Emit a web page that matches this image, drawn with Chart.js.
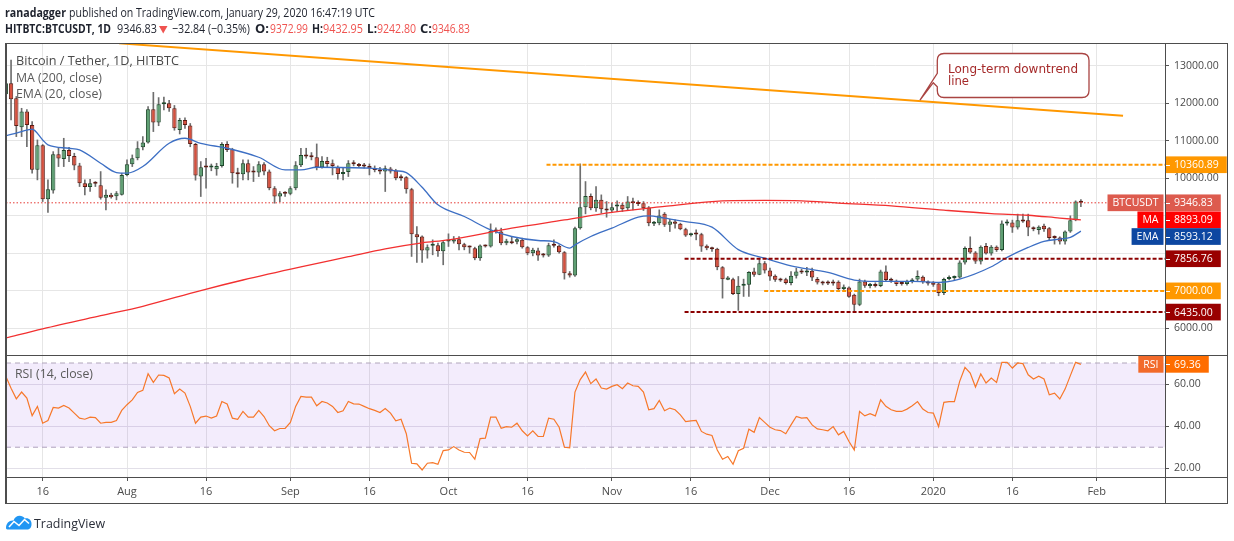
<!DOCTYPE html>
<html><head><meta charset="utf-8">
<script src="https://cdn.jsdelivr.net/npm/chart.js@4.4.1/dist/chart.umd.min.js"></script>
<style>
html,body{margin:0;padding:0;background:#fff;width:1234px;height:541px;overflow:hidden}
#wrap{position:relative;width:1234px;height:541px}
canvas{position:absolute;left:0;top:0}
svg{position:absolute;left:0;top:0}
.f{position:absolute;background:#4d4d4d}
</style></head><body>
<div id="wrap">
<canvas id="main" width="1234" height="541"></canvas>
<canvas id="rsi" width="1234" height="541"></canvas>
<div class="f" style="left:5px;top:43px;width:1223px;height:1px"></div>
<div class="f" style="left:5px;top:43px;width:2px;height:461px"></div>
<div class="f" style="left:1227px;top:43px;width:1px;height:461px"></div>
<div class="f" style="left:5px;top:503px;width:1223px;height:1px"></div>
<div class="f" style="left:5px;top:355px;width:1223px;height:1px"></div>
<div class="f" style="left:5px;top:477px;width:1223px;height:1px"></div>
<div class="f" style="left:1165px;top:43px;width:1px;height:461px"></div>
<svg width="1234" height="541" xmlns="http://www.w3.org/2000/svg">
 <g font-family="Open Sans" font-size="13" fill="#1e222d">
  <text x="5" y="17" font-weight="bold" textLength="61" lengthAdjust="spacingAndGlyphs">ranadagger</text>
  <text x="69" y="17" textLength="306" lengthAdjust="spacingAndGlyphs">published on TradingView.com, January 29, 2020 16:47:19 UTC</text>
  <text x="5" y="33" font-weight="bold" textLength="106" lengthAdjust="spacingAndGlyphs">HITBTC:BTCUSDT, 1D</text>
  <text x="117" y="33" textLength="40" lengthAdjust="spacingAndGlyphs">9346.83</text>
  <text x="172" y="33" textLength="78" lengthAdjust="spacingAndGlyphs">−32.84 (−0.35%)</text>
  <text x="255" y="33" font-weight="bold" textLength="14" lengthAdjust="spacingAndGlyphs">O:</text>
  <text x="270" y="33" fill="#ef5350" textLength="38" lengthAdjust="spacingAndGlyphs">9372.99</text>
  <text x="312" y="33" font-weight="bold" textLength="11" lengthAdjust="spacingAndGlyphs">H:</text>
  <text x="323" y="33" fill="#ef5350" textLength="40" lengthAdjust="spacingAndGlyphs">9432.95</text>
  <text x="367" y="33" font-weight="bold" textLength="10" lengthAdjust="spacingAndGlyphs">L:</text>
  <text x="377" y="33" fill="#ef5350" textLength="39" lengthAdjust="spacingAndGlyphs">9242.80</text>
  <text x="420" y="33" font-weight="bold" textLength="12" lengthAdjust="spacingAndGlyphs">C:</text>
  <text x="432" y="33" fill="#ef5350" textLength="38" lengthAdjust="spacingAndGlyphs">9346.83</text>
 </g>
 <polygon points="159,26 167.5,26 163.2,33.5" fill="#ef5350"/>
 <g font-family="Open Sans" font-size="13" fill="#4a4a4a">
  <text x="16" y="65" textLength="163" lengthAdjust="spacingAndGlyphs">Bitcoin / Tether, 1D, HITBTC</text>
  <text x="16" y="82" fill="#5a5a5a" textLength="86" lengthAdjust="spacingAndGlyphs">MA (200, close)</text>
  <text x="16" y="98" fill="#5a5a5a" textLength="86" lengthAdjust="spacingAndGlyphs">EMA (20, close)</text>
  <text x="15" y="378" fill="#5a5a5a" textLength="78" lengthAdjust="spacingAndGlyphs">RSI (14, close)</text>
 </g>
 <path d="M944,53.5 H1082 Q1089,53.5 1089,60.5 V90.5 Q1089,97.5 1082,97.5 H944 Q937.3,97.5 937.3,90.5 V86.7 L933.3,82.7 L920,100 L937.3,73.3 V60.5 Q937.3,53.5 944,53.5 Z" fill="#fff" stroke="#a94442" stroke-width="1.3"/>
 <g font-family="DejaVu Sans" font-size="12" fill="#a52a2a">
  <text x="948" y="73" textLength="130" lengthAdjust="spacingAndGlyphs">Long-term downtrend</text>
  <text x="948" y="85" textLength="21" lengthAdjust="spacingAndGlyphs">line</text>
 </g>
 <path d="M6,528 C6,523 9.5,520 13.5,520.5 C15,515.5 21.5,514 25,518.5 C28.5,517.5 32,520.5 31.5,524.5 C31.5,527.5 29.5,529.5 27,529.5 L8.5,529.5 C7,529.5 6,529 6,528 Z" fill="#2196f3"/>
 <polyline points="9,527 14,521.5 19,525.5 24.5,519.5 29,523.5" fill="none" stroke="#fff" stroke-width="1.6"/>
 <text x="34" y="528" font-family="Open Sans" font-size="13" fill="#2a2e39" textLength="71" lengthAdjust="spacingAndGlyphs">TradingView</text>
</svg>
</div>
<script>
// ---- data (day index: 0 = 2019-07-01; first candle = 2019-07-09) ----
const firstDay = 8;
const opens = [12238,12530,12131,11359,11776,11421,10224,10880,9443,9673,10640,10516,10756,10596,10339,9868,9771,9896,9815,9479,9558,9523,9558,10090,10374,10534,10827,10951,11838,11483,11975,11998,11865,11288,11554,11403,10915,10046,10320,10290,10240,10330,10915,10774,10135,10108,10400,10170,10152,10374,10179,9735,9514,9602,9585,9735,10347,10622,10578,10560,10294,10463,10400,10294,10116,10170,10427,10374,10347,10330,10276,10205,10179,10259,10205,10046,10028,9708,8511,8449,8076,8200,8218,8058,8316,8316,8378,8245,8183,8138,7872,8209,8183,8600,8582,8271,8307,8307,8360,8165,8005,8076,7961,7943,8218,8200,8032,7473,7411,8671,9230,9531,9203,9425,9159,9141,9248,9292,9203,9381,9336,9336,9221,8786,8804,9052,8759,8848,8786,8644,8484,8511,8511,8200,8156,8121,7632,7295,7313,6914,7136,7162,7517,7429,7739,7544,7402,7296,7313,7207,7402,7519,7492,7536,7315,7217,7217,7243,7243,7048,7092,6897,6631,7252,7128,7181,7128,7519,7315,7270,7199,7181,7252,7306,7377,7243,7226,7199,6942,7315,7341,7359,7758,8140,8024,7785,8193,7998,8175,8086,8796,8823,8690,8885,8885,8690,8619,8734,8672,8424,8424,8317,8583,8885,9372.99];
const highs = [12650,13152,12180,11865,11830,11510,11022,10900,9957,10710,10800,11066,10827,10667,10401,9957,9975,9913,10179,9691,9602,9647,10135,10490,10622,10977,11111,11909,12290,12150,12160,12080,11940,11600,11610,11460,10930,10445,10530,10380,10400,10950,10977,10800,10270,10490,10490,10312,10445,10419,10223,9780,9647,9647,9780,10445,10800,10800,10685,10915,10578,10560,10490,10330,10268,10472,10472,10400,10400,10383,10330,10294,10330,10294,10240,10090,10046,9735,8715,8467,8227,8360,8271,8316,8520,8449,8449,8271,8200,8165,8227,8227,8786,8680,8671,8378,8449,8422,8404,8183,8138,8138,8000,8271,8360,8227,8050,7517,8697,10383,9913,9585,9780,9558,9381,9336,9398,9336,9514,9470,9400,9380,9248,8850,9159,9088,8910,8892,8804,8671,8540,8627,8537,8227,8165,8138,7650,7384,7340,7384,7313,7517,7606,7872,7784,7606,7429,7340,7340,7517,7606,7580,7625,7607,7359,7260,7270,7290,7270,7160,7110,6915,7315,7288,7199,7217,7554,7670,7340,7290,7230,7290,7330,7536,7400,7265,7250,7226,7340,7400,7400,7803,8175,8441,8050,8202,8264,8210,8200,8867,8890,8885,9045,9045,9045,8708,8734,8779,8690,8468,8441,8600,9000,9400,9432.95];
const lows = [12150,11554,11110,11111,10845,10135,9957,9380,9088,9602,10312,10312,10445,10224,9780,9558,9647,9780,9443,9159,9470,9425,9550,10060,10312,10490,10756,10933,11244,11400,11820,11780,11280,11180,11330,10840,9950,9514,9735,10200,10080,10294,10710,9868,9762,9957,9957,9913,10046,10090,9691,9336,9380,9514,9558,9691,10312,10534,10490,10223,10268,10294,10090,9975,9957,10046,10330,10294,10268,10090,10170,10116,9647,10135,9957,9940,9602,7917,7757,7757,7872,7961,7916,7695,8183,8271,8094,8094,8005,7828,7810,8165,8165,8540,8227,8227,8254,8254,8138,7961,7934,7810,7900,7916,8165,8005,7313,7366,7384,8644,9052,9159,9115,9070,8963,9088,9115,9115,9159,9159,9270,9141,8733,8740,8759,8715,8582,8671,8627,8449,8460,8360,8050,8094,8050,7561,6807,7295,6896,6479,6852,6852,7384,7429,7473,7278,7251,7251,7180,7162,7340,7460,7403,7270,7181,7160,7164,7150,7004,7000,6826,6427,6604,7092,7080,7100,7110,7270,7226,7137,7150,7150,7210,7270,7200,7150,7120,6870,6897,7290,7300,7341,7714,7998,7730,7714,7980,7950,8050,8068,8750,8557,8645,8823,8468,8600,8512,8583,8353,8246,8246,8246,8557,8867,9242.80];
const closes = [12530,12105,11395,11776,11421,10224,10880,9443,9709,10640,10525,10756,10596,10339,9868,9771,9868,9851,9479,9558,9496,9603,10090,10374,10534,10800,10951,11838,11483,11971,12000,11865,11332,11554,11421,10915,10072,10294,10290,10330,10330,10915,10755,10135,10108,10400,10152,10152,10374,10179,9735,9514,9602,9585,9735,10347,10622,10578,10560,10294,10463,10383,10330,10116,10170,10400,10374,10330,10312,10268,10223,10179,10268,10179,10002,10002,9708,8511,8431,8076,8165,8218,8058,8298,8334,8378,8245,8165,8156,7872,8209,8183,8600,8582,8271,8334,8271,8378,8165,8005,8094,7943,7943,8218,8200,8032,7473,7411,8671,9230,9531,9203,9425,9177,9141,9230,9292,9177,9381,9336,9318,9203,8804,8804,9008,8759,8848,8786,8644,8475,8511,8502,8183,8138,8112,7632,7313,7358,6914,7136,7189,7500,7429,7739,7544,7384,7296,7278,7207,7402,7517,7492,7536,7359,7226,7199,7199,7199,7048,7110,6844,6631,7252,7137,7164,7128,7519,7288,7270,7181,7181,7252,7306,7394,7243,7199,7164,6942,7315,7359,7359,7758,8140,8024,7785,8175,7998,8175,8086,8796,8823,8690,8885,8850,8690,8645,8708,8645,8406,8406,8317,8583,8885,9382,9346.83];
const rsiVals = [63.7,58,53,56.2,53.3,45,49.4,41.4,42.7,48.9,48.6,49.8,48.6,46.2,43.8,43.3,44.3,44.1,41.4,41.8,41.8,42.7,47.5,50.2,52.5,56,57,64.9,60.8,64.3,64.1,62.9,55.4,57.6,55.7,49.4,41.4,44.3,44.8,43.8,44.8,51.7,50.5,43.8,43.3,47,44.3,44.3,47.5,44.6,40.2,37.8,38.9,38.9,41.8,49.4,54.1,53.8,53.8,49.7,51.7,51,49.4,46.5,47.3,51.7,50.6,50.5,49.4,48.3,47.5,46.5,48.4,46.2,42.5,43.3,36.4,22.4,22.1,19.2,22.4,22.7,21.9,28.4,28.7,30.3,28.7,27.6,27.5,24.3,34.1,34.3,44.3,44.3,39,39.8,39.5,41.4,37.8,35.4,37.8,35.1,35.1,43.8,43.3,39.5,30,29.7,56.2,62.1,65.7,60.2,62.4,58.1,57.6,58.9,59.7,57.8,60.5,59.2,58.9,56.2,47.8,48.3,52.2,47.3,48.6,47.8,45.4,42.2,42.5,42.7,37.5,36.2,35.6,28.7,24.3,25.6,21.9,28.3,29.5,38.6,37.1,44.1,41.8,39.5,38.3,37.9,36.4,40.6,44.6,43.8,44.1,40.6,38.7,38.3,37.8,39.8,35.9,37.5,32.7,28.7,47,44.9,45.9,44.9,52.5,49.4,47.8,47,47,48.1,49.7,51.7,48.1,46.5,46.2,39.8,51.3,51.7,51.7,61.3,67.9,65.2,58.6,64.8,60.5,62.9,60.8,70.3,70.3,67.6,70,69.7,64.4,62.4,63.7,62.4,54.9,55.7,52.9,57.6,64,70.3,69.36];
const maDays = [8,15,26,34,45,53,64,73,80,87,92,104,114,123,133,142,146,152,159,166,176,186,195,202,208,212];
const maVals = [5745,5990,6340,6590,7010,7290,7640,7910,8120,8280,8360,8670,8890,9090,9250,9380,9405,9410,9400,9340,9265,9150,9060,9015,8940,8893.09];
const emaDays = [8,11,13,15,16,20,22,26,29,31,34,39,42,45,50,56,61,64,67,77,82,84,87,90,95,100,104,109,112,115,116,119,123,128,130,133,137,142,147,152,157,164,169,173,180,185,189,195,198,202,205,208,210,212];
const emaVals = [11130,11244,11306,11022,10889,10800,10756,10401,10153,10135,10312,10933,11066,10930,10800,10560,10223,10223,10294,10268,10200,10150,9760,9292,8981,8626,8449,8342,8315,8138,8227,8449,8671,8963,9000,8937,8848,8697,8100,7872,7669,7492,7288,7252,7252,7226,7315,7643,7891,8157,8317,8380,8424,8593.12];
// horizontal levels
const levelVals = [10360.89, 7856.76, 7000.00, 6435.00];
const levelStart = [110.6, 136.8, 151.9, 136.8];
const levelColors = ['#ff9800', '#8b0000', '#ff9800', '#8b0000'];
// long-term downtrend line (two anchor points: day, price)
const trendDays = [29.5, 220];
const trendVals = [13596, 11669];
// axes
const tickDays = [15,31,46,62,77,92,107,123,138,153,168,184,199,215];
const tickLabels = ['16','Aug','16','Sep','16','Oct','16','Nov','16','Dec','16','2020','16','Feb'];
const priceTicks = [6000,7000,8000,9000,10000,11000,12000,13000];
const rsiTicks = [20,40,60];
const rsiBands = [70, 30];

const X_MIN = 8.04, X_MAX = 227.96;
const FONT = '"Open Sans", sans-serif';
Chart.defaults.font.family = FONT;
Chart.defaults.animation = false;

const days = opens.map((_, i) => firstDay + i);
const up = opens.map((o, i) => closes[i] >= o);
// price values that carry a coloured axis label (axis ticks hidden under them)
const boxedValues = [closes[closes.length - 1], maVals[maVals.length - 1], emaVals[emaVals.length - 1], ...levelVals];

function xScale(show) {
  return {
    type: 'linear', min: X_MIN, max: X_MAX, position: 'bottom', offset: false,
    afterBuildTicks: s => { s.ticks = tickDays.map(v => ({ value: v })); },
    ticks: { display: show, autoSkip: false, maxRotation: 0, padding: 4, color: '#4a4a4a',
      font: { size: 11, family: FONT }, callback: (v, i) => tickLabels[i] },
    grid: { offset: false, color: '#e6e6e6', drawTicks: show, tickLength: 4, tickColor: '#555' },
    border: { display: false },
    afterFit: s => { s.height = show ? 27 : 0; }
  };
}

const H = 16.7, X0 = 1166;
function valueBox(ctx, y, txt, bg) {
  ctx.font = '10.5px ' + FONT;
  const w = 16 + ctx.measureText(txt).width;
  ctx.fillStyle = bg; ctx.fillRect(X0, y - H / 2, w, H);
  ctx.strokeStyle = '#fff'; ctx.lineWidth = 1;
  ctx.beginPath(); ctx.moveTo(X0, Math.round(y) + 0.5); ctx.lineTo(X0 + 4, Math.round(y) + 0.5); ctx.stroke();
  ctx.fillStyle = '#fff'; ctx.textAlign = 'left'; ctx.textBaseline = 'middle';
  ctx.fillText(txt, X0 + 8, y + 0.5);
}
function nameBox(ctx, y, txt, bg) {
  ctx.font = '10.5px ' + FONT;
  const w = 10 + ctx.measureText(txt).width;
  ctx.fillStyle = bg; ctx.fillRect(1163.5 - w, y - H / 2, w, H);
  ctx.fillStyle = '#fff'; ctx.textAlign = 'right'; ctx.textBaseline = 'middle';
  ctx.fillText(txt, 1163.5 - 5, y + 0.5);
}

const mainLabels = {
  id: 'mainLabels',
  afterDraw(chart) {
    const ys = chart.scales.y, ctx = chart.ctx;
    ctx.save();
    levelVals.forEach((v, i) => valueBox(ctx, ys.getPixelForValue(v), v.toFixed(2), levelColors[i] === '#8b0000' ? '#990000' : '#ff9800'));
    const items = [
      { v: closes[closes.length - 1], name: 'BTCUSDT', bg: '#dd5b4e' },
      { v: maVals[maVals.length - 1], name: 'MA', bg: '#ff0000' },
      { v: emaVals[emaVals.length - 1], name: 'EMA', bg: '#0d47a1' }
    ].map(o => Object.assign(o, { y: ys.getPixelForValue(o.v) })).sort((a, b) => a.y - b.y);
    for (let i = 1; i < items.length; i++) items[i].y = Math.max(items[i].y, items[i - 1].y + H);
    items.forEach(o => { nameBox(ctx, o.y, o.name, o.bg); valueBox(ctx, o.y, o.v.toFixed(2), o.bg); });
    ctx.restore();
  }
};
const rsiLabels = {
  id: 'rsiLabels',
  afterDraw(chart) {
    const ys = chart.scales.y, ctx = chart.ctx;
    const v = rsiVals[rsiVals.length - 1], y = ys.getPixelForValue(v);
    ctx.save();
    nameBox(ctx, y, 'RSI', '#f26a2a');
    valueBox(ctx, y, v.toFixed(2), '#ff6d00');
    ctx.restore();
  }
};

const lineBase = { type: 'line', pointRadius: 0, clip: 0, fill: false };
const mainDatasets = [
  { type: 'bar', data: days.map((d, i) => ({ x: d, y: [lows[i], highs[i]] })),
    backgroundColor: '#6e6e6e', maxBarThickness: 1, grouped: false, barPercentage: 1, categoryPercentage: 1,
    borderWidth: 0, clip: 0, order: 10 },
  { type: 'bar', data: days.map((d, i) => ({ x: d, y: [Math.min(opens[i], closes[i]), Math.max(opens[i], closes[i])] })),
    backgroundColor: up.map(u => u ? '#5f9f73' : '#d6503e'), borderColor: up.map(u => u ? '#1e4a2c' : '#5e1c14'),
    borderWidth: 1, borderSkipped: false, grouped: false, barPercentage: 0.82, categoryPercentage: 1,
    minBarLength: 2, clip: 0, order: 9 },
  Object.assign({}, lineBase, { data: maDays.map((d, i) => ({ x: d, y: maVals[i] })), borderColor: '#f23030', borderWidth: 1.3, cubicInterpolationMode: 'monotone', order: 5 }),
  Object.assign({}, lineBase, { data: emaDays.map((d, i) => ({ x: d, y: emaVals[i] })), borderColor: '#3d6fc4', borderWidth: 1.3, cubicInterpolationMode: 'monotone', order: 5 }),
  Object.assign({}, lineBase, { data: [{ x: X_MIN, y: closes[closes.length - 1] }, { x: X_MAX, y: closes[closes.length - 1] }], borderColor: '#e53935', borderWidth: 1, borderDash: [1.5, 2], order: 4 }),
  ...levelVals.map((v, i) => Object.assign({}, lineBase, { data: [{ x: levelStart[i], y: v }, { x: X_MAX, y: v }], borderColor: levelColors[i], borderWidth: 2, borderDash: [4, 2], order: 3 })),
  Object.assign({}, lineBase, { data: trendDays.map((d, i) => ({ x: d, y: trendVals[i] })), borderColor: '#ff9800', borderWidth: 2, order: 2 })
];

new Chart(document.getElementById('main'), {
  data: { datasets: mainDatasets },
  options: {
    responsive: false, events: [],
    layout: { padding: { left: 6, right: 0, top: 43, bottom: 186 } },
    plugins: { legend: { display: false }, tooltip: { enabled: false } },
    scales: {
      x: xScale(false),
      y: { type: 'linear', position: 'right', min: 5292, max: 13604,
        afterBuildTicks: s => { s.ticks = priceTicks.map(v => ({ value: v })); },
        ticks: { callback: v => boxedValues.some(b => Math.abs(b - v) < 250) ? '' : Number(v).toFixed(2),
          color: '#4a4a4a', font: { size: 10.5, family: FONT }, padding: 5 },
        grid: { color: '#e6e6e6', tickLength: 4, tickColor: '#555' },
        border: { display: false },
        afterFit: s => { s.width = 69; } }
    }
  },
  plugins: [mainLabels]
});

new Chart(document.getElementById('rsi'), {
  data: { datasets: [
    Object.assign({}, lineBase, { data: [{ x: X_MIN, y: rsiBands[0] }, { x: X_MAX, y: rsiBands[0] }], borderColor: '#b0a6bb', borderWidth: 1, borderDash: [5, 4], fill: '+1', backgroundColor: 'rgba(150,80,230,0.11)', order: 3 }),
    Object.assign({}, lineBase, { data: [{ x: X_MIN, y: rsiBands[1] }, { x: X_MAX, y: rsiBands[1] }], borderColor: '#b0a6bb', borderWidth: 1, borderDash: [5, 4], order: 3 }),
    Object.assign({}, lineBase, { data: days.map((d, i) => ({ x: d, y: rsiVals[i] })), borderColor: '#f7782a', borderWidth: 1.2, order: 1 })
  ] },
  options: {
    responsive: false, events: [],
    layout: { padding: { left: 6, right: 0, top: 355, bottom: 37 } },
    plugins: { legend: { display: false }, tooltip: { enabled: false } },
    scales: {
      x: xScale(true),
      y: { type: 'linear', position: 'right', min: 15.86, max: 73.8,
        afterBuildTicks: s => { s.ticks = rsiTicks.map(v => ({ value: v })); },
        ticks: { callback: v => Number(v).toFixed(2), color: '#4a4a4a', font: { size: 10.5, family: FONT }, padding: 5 },
        grid: { color: '#e2dfe8', tickLength: 4, tickColor: '#555' },
        border: { display: false },
        afterFit: s => { s.width = 69; } }
    }
  },
  plugins: [rsiLabels]
});
</script>
</body></html>
